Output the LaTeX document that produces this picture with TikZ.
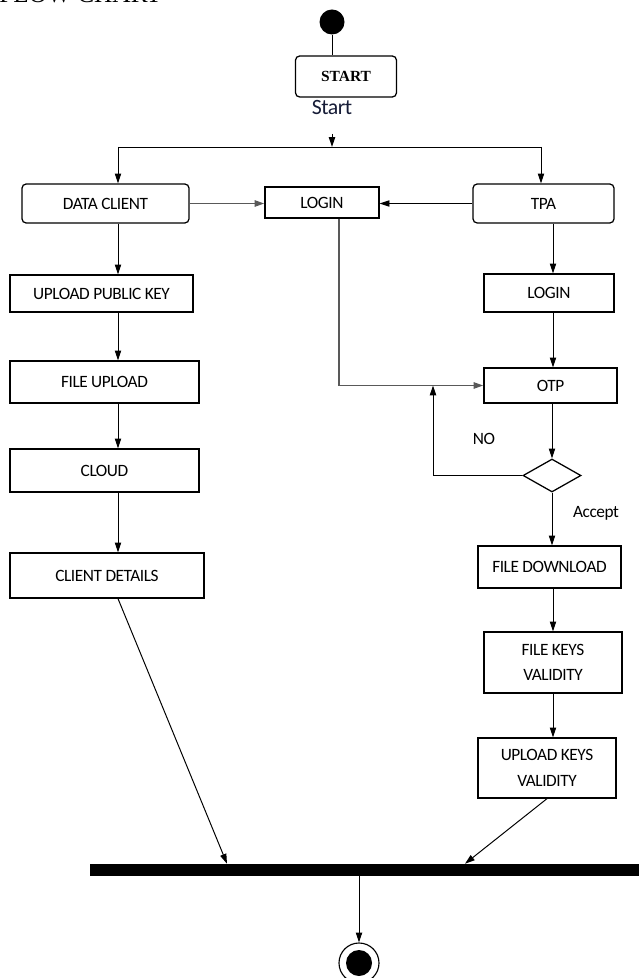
\documentclass[tikz,border=0pt]{standalone}
\usepackage{fontspec}
\setmainfont{Carlito}[LetterSpace=-2.5]
\newfontfamily\timesfont{Liberation Serif}
\usepackage{tikz}
\usetikzlibrary{shapes.geometric, arrows.meta, positioning, calc}
\definecolor{startnavy}{RGB}{22, 28, 55}

\begin{document}
\begin{tikzpicture}[x=0.025cm, y=-0.025cm,
        box/.style = {draw, line width=0.9pt, rectangle, inner sep=0pt, align=center, font=\fontsize{12.3}{18}\selectfont},
        roundbox/.style = {box, rounded corners=3pt},
        decision/.style = {draw, line width=0.9pt, diamond, inner sep=0pt, minimum width=1.45cm, minimum height=0.825cm},
        tag/.style = {inner sep=1pt, font=\fontsize{12.3}{14}\selectfont},
        arrow/.style = {line width=0.7pt, -{Triangle[length=7pt,width=4.5pt]}},
        fatarrow/.style = {arrow, line width=1.3pt, black!65},
        plain/.style = {line width=0.7pt}
    ]
        \useasboundingbox (0,0) rectangle (639,978);

        % Nodes
        \node [anchor=base west, inner sep=0pt, font=\timesfont\fontsize{18}{20}\selectfont] (title) at (-1,3) {FLOW CHART};
        \node [circle, fill, inner sep=0pt, minimum size=0.625cm] (init) at (332,22) {};
        \node [roundbox, minimum width=2.525cm, minimum height=1.025cm, font=\timesfont\bfseries\fontsize{11}{13}\selectfont] (startbox) at (346,76.5) {START};
        \node [tag, font=\fontsize{15.5}{17}\selectfont, text=startnavy] (startlbl) at (332,108) {Start};

        \node [roundbox, minimum width=4.175cm, minimum height=0.975cm] (dataclient) at (105.5,203.5) {DATA CLIENT};
        \node [box, minimum width=2.85cm, minimum height=0.775cm] (login) at (322,202.5) {LOGIN};
        \node [roundbox, minimum width=3.525cm, minimum height=0.975cm] (tpa) at (543.5,203.5) {TPA};

        \node [box, minimum width=4.575cm, minimum height=0.925cm] (uppub) at (101.5,293.5) {UPLOAD PUBLIC KEY};
        \node [box, minimum width=4.725cm, minimum height=1.05cm] (fileup) at (104.5,382) {FILE UPLOAD};
        \node [box, minimum width=4.725cm, minimum height=1.075cm] (cloud) at (104.5,470.5) {CLOUD};
        \node [box, minimum width=4.85cm, minimum height=1.125cm] (clientdet) at (107,575.5) {CLIENT DETAILS};

        \node [box, minimum width=3.25cm, minimum height=0.95cm] (tpalogin) at (549,293) {LOGIN};
        \node [box, minimum width=3.325cm, minimum height=0.875cm] (otp) at (550.5,385.5) {OTP};
        \node [decision] (check) at (552,475.5) {};
        \node [box, minimum width=3.575cm, minimum height=1.05cm] (filedown) at (549.5,567) {FILE DOWNLOAD};
        \node [box, minimum width=3.45cm, minimum height=1.525cm] (filekeys) at (553,662.5) {FILE KEYS\\VALIDITY};
        \node [box, minimum width=3.45cm, minimum height=1.5cm] (upkeys) at (547,768) {UPLOAD KEYS\\VALIDITY};

        \node [tag] (nolbl) at (484,439) {NO};
        \node [tag] (acclbl) at (596,513) {Accept};

        \node [rectangle, fill, inner sep=0pt, minimum width=13.725cm, minimum height=0.3cm] (bar) at (364.5,870) {};
        \node [circle, draw, line width=0.8pt, inner sep=0pt, minimum size=1cm] (fin) at (359,963) {};
        \node [circle, fill, inner sep=0pt, minimum size=0.65cm] (finin) at (fin) {};

        % Guide points
        \coordinate (stip) at (332,134);
        \coordinate (split) at (332,147);
        \coordinate (lcol) at (118,0);
        \coordinate (rcol) at (541,0);
        \coordinate (tcol) at (553,0);
        \coordinate (lgcol) at (339,0);
        \coordinate (loopx) at (433,0);
        \coordinate (barl) at (227,0);
        \coordinate (barr) at (465,0);

        % Connectors
        \draw [plain] (init) -- (startbox.north -| init);
        \draw [arrow] (stip) -- (split);
        \draw [plain] (split -| lcol) -- (split -| rcol);
        \draw [arrow] (split -| lcol) -- (dataclient.north -| lcol);
        \draw [arrow] (split -| rcol) -- (tpa.north -| rcol);

        \draw [fatarrow] (dataclient.east) -- (dataclient.east -| login.west);
        \draw [arrow] (tpa.west) -- (tpa.west -| login.east);

        \draw [arrow] (dataclient.south -| lcol) -- (uppub.north -| lcol);
        \draw [arrow] (uppub.south -| lcol) -- (fileup.north -| lcol);
        \draw [arrow] (fileup.south -| lcol) -- (cloud.north -| lcol);
        \draw [arrow] (cloud.south -| lcol) -- (clientdet.north -| lcol);

        \draw [arrow] (tpa.south -| tcol) -- (tpalogin.north -| tcol);
        \draw [arrow] (tpalogin.south -| tcol) -- (otp.north -| tcol);
        \draw [fatarrow] (login.south -| lgcol) |- (otp.west);
        \draw [arrow] (otp.south -| check) -- (check.north);
        \draw [arrow] (check.west) -| (otp.west -| loopx);
        \draw [arrow] (check.south) -- (filedown.north -| check);
        \draw [arrow] (filedown.south -| tcol) -- (filekeys.north -| tcol);
        \draw [arrow] (filekeys.south -| tcol) -- (upkeys.north -| tcol);

        \draw [arrow] (clientdet.south -| lcol) -- (bar.north -| barl);
        \draw [arrow] (upkeys.south) -- (bar.north -| barr);
        \draw [arrow] (bar.south -| fin) -- (fin.north);
    \end{tikzpicture}
\end{document}
